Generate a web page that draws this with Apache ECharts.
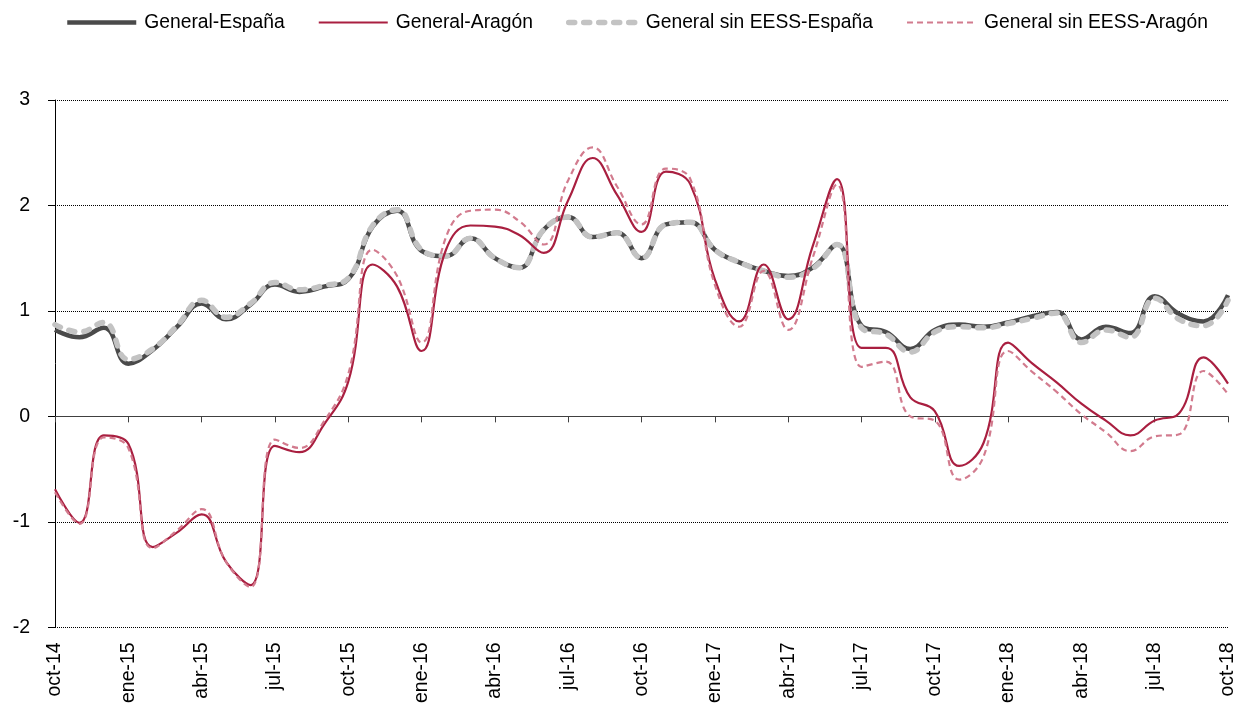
<!DOCTYPE html>
<html>
<head>
<meta charset="utf-8">
<script src="https://cdn.jsdelivr.net/npm/echarts@6/dist/echarts.min.js"></script>
<style>
  html, body { margin: 0; padding: 0; background: #fff; }
  #chart { width: 1238px; height: 706px; }
</style>
</head>
<body>
<div id="chart"></div>
<script>
// meses (oct-14 .. oct-18)
const months = [
  'oct-14', 'nov-14', 'dic-14', 'ene-15', 'feb-15', 'mar-15', 'abr-15', 'may-15', 'jun-15',
  'jul-15', 'ago-15', 'sep-15', 'oct-15', 'nov-15', 'dic-15', 'ene-16', 'feb-16', 'mar-16',
  'abr-16', 'may-16', 'jun-16', 'jul-16', 'ago-16', 'sep-16', 'oct-16', 'nov-16', 'dic-16',
  'ene-17', 'feb-17', 'mar-17', 'abr-17', 'may-17', 'jun-17', 'jul-17', 'ago-17', 'sep-17',
  'oct-17', 'nov-17', 'dic-17', 'ene-18', 'feb-18', 'mar-18', 'abr-18', 'may-18', 'jun-18',
  'jul-18', 'ago-18', 'sep-18', 'oct-18'
]

// General-España
const generalEspana = [
  0.82, 0.75, 0.84, 0.50, 0.63, 0.85, 1.07, 0.92, 1.06, 1.25, 1.18, 1.23, 1.30,
  1.80, 1.95, 1.57, 1.52, 1.69, 1.50, 1.41, 1.77, 1.89, 1.70, 1.74, 1.50, 1.82, 1.84,
  1.58, 1.46, 1.38, 1.33, 1.41, 1.63, 0.86, 0.80, 0.64, 0.82, 0.87, 0.85, 0.89, 0.95,
  0.99, 0.73, 0.85, 0.79, 1.14, 0.97, 0.90, 1.15
]
// General-Aragón
const generalAragon = [
  -0.69, -1.01, -0.18, -0.26, -1.24, -1.10, -0.93, -1.38, -1.60, -0.28, -0.34, -0.08, 0.33,
  1.44, 1.23, 0.62, 1.58, 1.81, 1.80, 1.72, 1.55, 2.05, 2.45, 2.10, 1.75, 2.32, 2.20,
  1.30, 0.90, 1.44, 0.92, 1.61, 2.25, 0.65, 0.65, 0.18, 0.05, -0.47, -0.25, 0.70, 0.50,
  0.32, 0.12, -0.04, -0.18, -0.04, 0.03, 0.56, 0.31
]
// General sin EESS-España
const sinEessEspana = [
  0.87, 0.80, 0.89, 0.54, 0.64, 0.86, 1.10, 0.94, 1.07, 1.27, 1.20, 1.24, 1.31,
  1.81, 1.96, 1.58, 1.52, 1.69, 1.50, 1.41, 1.77, 1.89, 1.70, 1.74, 1.50, 1.82, 1.84,
  1.58, 1.46, 1.38, 1.32, 1.40, 1.63, 0.84, 0.78, 0.61, 0.80, 0.85, 0.84, 0.88, 0.93,
  0.98, 0.70, 0.82, 0.75, 1.12, 0.92, 0.86, 1.10
]
// General sin EESS-Aragón
const sinEessAragon = [
  -0.72, -1.02, -0.20, -0.30, -1.25, -1.08, -0.88, -1.38, -1.62, -0.22, -0.30, -0.05, 0.40,
  1.58, 1.33, 0.70, 1.70, 1.95, 1.96, 1.85, 1.63, 2.24, 2.55, 2.18, 1.82, 2.35, 2.25,
  1.25, 0.85, 1.38, 0.82, 1.50, 2.20, 0.47, 0.52, 0.00, -0.04, -0.60, -0.38, 0.62, 0.42,
  0.23, 0.02, -0.15, -0.33, -0.19, -0.17, 0.43, 0.21
]

const font = 'Liberation Sans, Arial, sans-serif'

// estilos de línea, compartidos por serie y leyenda
const styleEspana = { color: '#4a4a4a', width: 4.5 }
const styleAragon = { color: '#a91f40', width: 2.2 }
const styleSinEspana = { color: '#c3c3c3', width: 5.5, type: [6, 9], cap: 'round' }
const styleSinAragon = { color: '#d27b8e', width: 2.2, type: [6, 4] }

const chart = echarts.init(document.getElementById('chart'))
const option = {
  animation: false,
  textStyle: { fontFamily: font },
  legend: {
    left: 65,
    top: 13,
    padding: 0,
    itemWidth: 69,
    itemHeight: 14,
    itemGap: 33,
    itemStyle: { opacity: 0 },
    textStyle: { fontSize: 19.3, color: '#000', fontFamily: font, padding: [0, 0, 0, 3] },
    data: [
      { name: 'General-España', lineStyle: styleEspana },
      { name: 'General-Aragón', lineStyle: styleAragon },
      { name: 'General sin EESS-España', lineStyle: styleSinEspana },
      { name: 'General sin EESS-Aragón', lineStyle: styleSinAragon }
    ]
  },
  grid: { left: 55, right: 10, top: 100, bottom: 78, containLabel: false },
  xAxis: [
    {
      type: 'category',
      data: months,
      boundaryGap: false,
      axisLine: { onZero: true, lineStyle: { color: '#404040', width: 1 } },
      axisTick: { interval: 2, length: 6, lineStyle: { color: '#404040' } },
      axisLabel: { show: false },
      splitLine: { show: false }
    },
    {
      type: 'category',
      data: months,
      position: 'bottom',
      boundaryGap: false,
      axisLine: { show: false, onZero: false },
      axisTick: { show: false },
      axisLabel: { interval: 2, rotate: 90, margin: 15, fontSize: 19.5, color: '#000', fontFamily: font },
      splitLine: { show: false }
    }
  ],
  yAxis: {
    type: 'value',
    min: -2,
    max: 3,
    interval: 1,
    axisLine: { show: true, lineStyle: { color: '#000', width: 1 } },
    axisTick: { show: true, length: 7, lineStyle: { color: '#000' } },
    axisLabel: { margin: 25, fontSize: 19.5, color: '#000', fontFamily: font },
    splitLine: { show: true, lineStyle: { color: '#000', type: [1, 1], width: 1 } }
  },
  series: [
    {
      name: 'General-España',
      type: 'line',
      data: generalEspana,
      smooth: 0.45,
      symbol: 'none',
      lineStyle: styleEspana,
      itemStyle: { color: styleEspana.color },
      z: 2
    },
    {
      name: 'General-Aragón',
      type: 'line',
      data: generalAragon,
      smooth: 0.45,
      symbol: 'none',
      lineStyle: styleAragon,
      itemStyle: { color: styleAragon.color },
      z: 4
    },
    {
      name: 'General sin EESS-España',
      type: 'line',
      data: sinEessEspana,
      smooth: 0.45,
      symbol: 'none',
      lineStyle: styleSinEspana,
      itemStyle: { color: styleSinEspana.color },
      z: 3
    },
    {
      name: 'General sin EESS-Aragón',
      type: 'line',
      data: sinEessAragon,
      smooth: 0.45,
      symbol: 'none',
      lineStyle: styleSinAragon,
      itemStyle: { color: styleSinAragon.color },
      z: 5
    }
  ]
}
chart.setOption(option)
</script>
</body>
</html>
